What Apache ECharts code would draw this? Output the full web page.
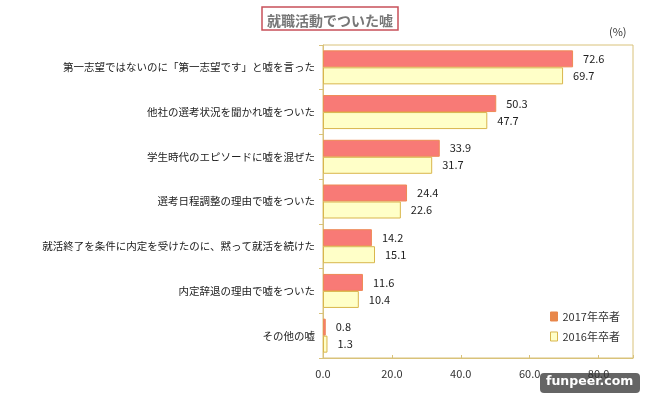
<!DOCTYPE html>
<html><head><meta charset="utf-8">
<script src="https://cdn.jsdelivr.net/npm/echarts@6/dist/echarts.min.js"></script>
<style>html,body{margin:0;padding:0;background:#fff}#c{width:660px;height:393px}</style>
</head><body><div id="c"></div>
<script>
const categories = [
  '第一志望ではないのに「第一志望です」と嘘を言った',
  '他社の選考状況を聞かれ嘘をついた',
  '学生時代のエピソードに嘘を混ぜた',
  '選考日程調整の理由で嘘をついた',
  '就活終了を条件に内定を受けたのに、黙って就活を続けた',
  '内定辞退の理由で嘘をついた',
  'その他の嘘'
];
const values2017 = [72.6, 50.3, 33.9, 24.4, 14.2, 11.6, 0.8];
const values2016 = [69.7, 47.7, 31.7, 22.6, 15.1, 10.4, 1.3];
const xTicks = [0, 20, 40, 60, 80];

const font = '"Noto Sans CJK JP", sans-serif';
const chart = echarts.init(document.getElementById('c'));
chart.setOption({
  animation: false,
  textStyle: {fontFamily: font},
  title: {
    text: '就職活動でついた嘘', left: 'center', top: 9,
    textStyle: {fontSize: 14, fontWeight: 'bold', color: '#777', fontFamily: font}
  },
  graphic: [
    {type: 'rect', shape: {x: 262, y: 7, width: 136, height: 23},
     style: {fill: 'none', stroke: '#C8505A', lineWidth: 1.5}},
    {type: 'text', left: 609, top: 26, style: {text: '(%)', fontSize: 11, fill: '#333', fontFamily: font}},
    {type: 'rect', shape: {x: 540, y: 373, width: 100, height: 20, r: 4},
     style: {fill: '#4a4a4a', opacity: 0.85}},
    {type: 'text', left: 546, top: 375, style: {text: 'funpeer.com', fontSize: 12.5, fontWeight: 'bold', fill: '#fff', fontFamily: 'DejaVu Sans'}}
  ],
  legend: {
    orient: 'vertical', left: 545, top: 306, itemWidth: 7, itemHeight: 9, itemGap: 9,
    itemStyle: {borderWidth: 1},
    textStyle: {fontSize: 11, color: '#333', fontFamily: font},
    data: [
      {name: '2017年卒者', icon: 'rect', itemStyle: {color: '#E8874A', borderColor: '#E8874A'}},
      {name: '2016年卒者', icon: 'rect', itemStyle: {color: '#FFFFC8', borderColor: '#D9B64C'}}
    ]
  },
  grid: {left: 323, right: 27, top: 45, bottom: 35, show: true, borderColor: '#D9C27A', borderWidth: 1},
  xAxis: {
    type: 'value', min: 0, max: 90, interval: 20,
    splitLine: {show: false},
    axisLine: {show: true, lineStyle: {color: '#D9C27A'}},
    axisTick: {show: true, inside: true, length: 3, lineStyle: {color: '#D9C27A'}},
    axisLabel: {fontSize: 11, color: '#333', margin: 10,
      formatter: v => xTicks.indexOf(v) >= 0 ? v.toFixed(1) : ''}
  },
  yAxis: {
    type: 'category', inverse: true, data: categories,
    axisLine: {show: true, lineStyle: {color: '#D9C27A'}},
    axisTick: {show: true, length: 4, lineStyle: {color: '#D9C27A'}},
    axisLabel: {fontSize: 10.5, color: '#222', margin: 8}
  },
  series: [
    {name: '2017年卒者', type: 'bar', data: values2017, barWidth: 17, barGap: '0%',
     itemStyle: {color: '#F87A76', borderColor: '#EE8A55', borderWidth: 1},
     label: {show: true, position: 'right', distance: 10, fontSize: 11, color: '#222',
       formatter: p => p.value.toFixed(1)}},
    {name: '2016年卒者', type: 'bar', data: values2016, barWidth: 17,
     itemStyle: {color: '#FFFFC8', borderColor: '#D9B64C', borderWidth: 1},
     label: {show: true, position: 'right', distance: 10, fontSize: 11, color: '#222',
       formatter: p => p.value.toFixed(1)}}
  ]
});
</script></body></html>
